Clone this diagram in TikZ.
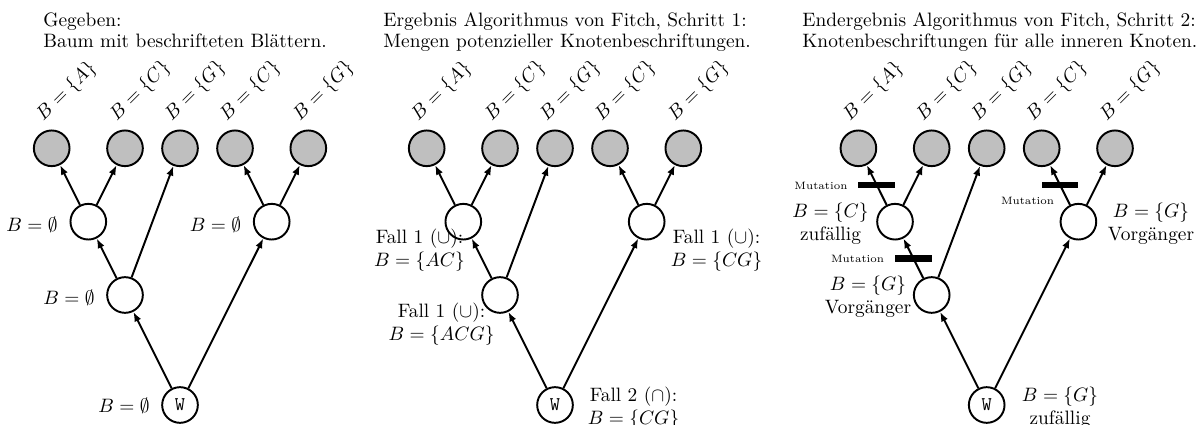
\documentclass[tikz,border=0pt]{standalone}
\usetikzlibrary{arrows.meta,calc}
\tikzset{
  knot/.style={circle, draw, line width=1pt, minimum size=18.4pt, inner sep=0pt, fill=white},
  leaf/.style={knot, fill=black!25},
  edge/.style={line width=1pt, -{Latex[length=5pt,width=3.8pt]}},
  leaflbl/.style={rotate=45, anchor=base west, inner sep=0pt},
  lbl/.style={align=center, inner sep=0pt},
  mbar/.style={fill=black, draw=none, minimum width=19pt, minimum height=3.6pt, inner sep=0pt},
  mut/.style={font=\fontsize{5.5pt}{6pt}\selectfont, inner sep=0pt},
  ttl/.style={align=left, anchor=north west, inner sep=0pt}
}
\newcommand\fitchtree[2]{%
  \node[leaf] (#1a) at ({#2-128.3},148.3) {};
  \node[leaf] (#1b) at ({#2-55},148.3) {};
  \node[leaf] (#1c) at ({#2},148.3) {};
  \node[leaf] (#1d) at ({#2+55},148.3) {};
  \node[leaf] (#1e) at ({#2+128.3},148.3) {};
  \node[knot] (#1l) at ({#2-91.7},221.7) {};
  \node[knot] (#1r) at ({#2+91.7},221.7) {};
  \node[knot] (#1m) at ({#2-55},295) {};
  \node[knot] (#1w) at ({#2},405) {\texttt{W}};
  \draw[edge] (#1w) -- (#1m);
  \draw[edge] (#1w) -- (#1r);
  \draw[edge] (#1m) -- (#1l);
  \draw[edge] (#1m) -- (#1c);
  \draw[edge] (#1l) -- (#1a);
  \draw[edge] (#1l) -- (#1b);
  \draw[edge] (#1r) -- (#1d);
  \draw[edge] (#1r) -- (#1e);
  \node[leaflbl] (#1ta) at ({#2-128.3-8.5},121.8) {$B=\{A\}$};
  \node[leaflbl] (#1tb) at ({#2-55-8.5},121.8) {$B=\{C\}$};
  \node[leaflbl] (#1tc) at ({#2-8.5},121.8) {$B=\{G\}$};
  \node[leaflbl] (#1td) at ({#2+55-8.5},121.8) {$B=\{C\}$};
  \node[leaflbl] (#1te) at ({#2+128.3-8.5},121.8) {$B=\{G\}$};
}
\begin{document}
\begin{tikzpicture}[x=0.516pt, y=-0.516pt]
\useasboundingbox (0,0) rectangle (1202,425);
% ---------- panel 1 ----------
\node[ttl] (t1) at (43,12.3) {Gegeben:\\[-1pt]Baum mit beschrifteten Blättern.};
\fitchtree{a}{180}
\node[lbl] (al) at (32,225) {$B=\emptyset$};
\node[lbl] (ar) at (215.5,225) {$B=\emptyset$};
\node[lbl] (am) at (69,298) {$B=\emptyset$};
\node[lbl] (aw) at (124,406) {$B=\emptyset$};
% ---------- panel 2 ----------
\node[ttl] (t2) at (383,12.3) {Ergebnis Algorithmus von Fitch, Schritt 1:\\[-1pt]Mengen potenzieller Knotenbeschriftungen.};
\fitchtree{b}{555}
\node[lbl] (bll) at (419.5,250) {Fall 1 ($\cup$):\\$B=\{AC\}$};
\node[lbl] (brl) at (716.5,250) {Fall 1 ($\cup$):\\$B=\{CG\}$};
\node[lbl] (bml) at (441.5,324) {Fall 1 ($\cup$):\\$B=\{ACG\}$};
\node[lbl] (bwl) at (633.5,408) {Fall 2 ($\cap$):\\$B=\{CG\}$};
% ---------- panel 3 ----------
\node[ttl] (t3) at (802,12.3) {Endergebnis Algorithmus von Fitch, Schritt 2:\\[-1pt]Knotenbeschriftungen für alle inneren Knoten.};
\fitchtree{c}{986.7}
\node[mbar] (cm1) at ($(cl)!0.5!(ca)$) {};
\node[mbar] (cm2) at ($(cm)!0.5!(cl)$) {};
\node[mbar] (cm3) at ($(cr)!0.5!(cd)$) {};
\node[mut, anchor=east] (cmt1) at ([shift={(-10,0.5)}]cm1.west) {Mutation};
\node[mut, anchor=east] (cmt2) at ([shift={(-10,0.5)}]cm2.west) {Mutation};
\node[mut] (cmt3) at ([shift={(-32.5,15.5)}]cm3.center) {Mutation};
\node[lbl] (cll) at (830.5,223.5) {$B=\{C\}$\\zufällig};
\node[lbl] (cml) at (868,297) {$B=\{G\}$\\Vorgänger};
\node[lbl] (crl) at (1151,224) {$B=\{G\}$\\Vorgänger};
\node[lbl] (cwl) at (1060,408) {$B=\{G\}$\\zufällig};
\end{tikzpicture}
\end{document}
